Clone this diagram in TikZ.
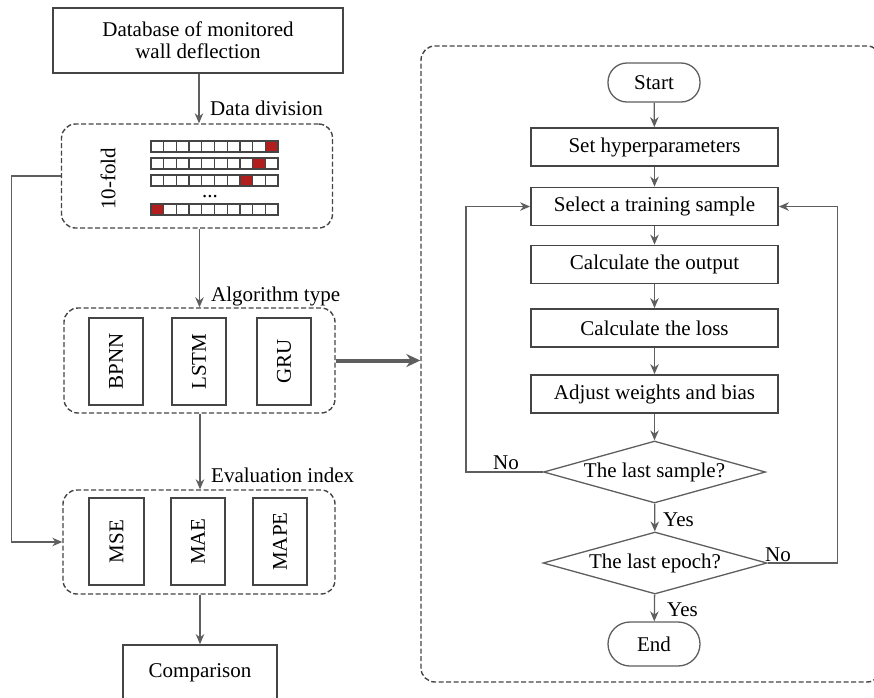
\documentclass[tikz,border=0pt]{standalone}
\usepackage{fontspec}
\setmainfont{Liberation Serif}
\usetikzlibrary{shapes.geometric,arrows.meta}

\definecolor{boxc}{HTML}{454545}
\definecolor{linec}{HTML}{5E5E5E}
\definecolor{cellred}{HTML}{B21E1E}

\tikzset{
  txt/.style={font=\fontsize{21}{24}\selectfont, text=black},
  solidbox/.style={txt, draw=boxc, line width=1.8pt, inner sep=0pt},
  groupbox/.style={draw=boxc, line width=1.4pt, dash pattern=on 5pt off 2.5pt,
                   rounded corners=14pt, inner sep=0pt},
  vbox/.style={solidbox, minimum width=54pt, minimum height=87pt},
  flowbox/.style={solidbox, minimum width=247pt, minimum height=38pt},
  terminal/.style={txt, draw=linec, line width=1.3pt, rounded corners=19pt,
                   minimum width=92pt, inner sep=0pt},
  decision/.style={txt, diamond, aspect=3.58, draw=linec, line width=1.3pt,
                   inner sep=0pt, minimum width=222pt, minimum height=62pt},
  conn/.style={draw=linec, line width=1.3pt,
               -{Stealth[length=10pt,width=8.5pt]}},
  thickconn/.style={draw=linec, line width=4pt,
                    -{Stealth[length=14pt,width=13pt]}},
  label/.style={txt, anchor=west, inner sep=0pt},
  cell/.style={draw=boxc, line width=1.3pt},
}

\begin{document}
\begin{tikzpicture}[x=1pt,y=-1pt]
\useasboundingbox (0,0) rectangle (874,697);
\clip (0,0) rectangle (874,697);

% ---------- left column ----------
\node[solidbox, minimum width=290pt, minimum height=65pt, align=center]
  (db) at (198,40.5) {Database of monitored\\[-2pt]wall deflection};

\node[groupbox, minimum width=271pt, minimum height=104pt] (fold) at (197,176) {};
\node[txt, rotate=90] (foldlabel) at (108,179) {10-fold};

% cross-validation folds: ten cells per row, one held-out cell in red
\foreach \row/\ytop/\red in {1/141/10, 2/158/9, 3/175/8, 4/204/1} {
  \foreach \c in {1,...,10} {
    \pgfmathsetmacro{\xl}{151+(\c-1)*12.7}
    \ifnum\c=\red
      \filldraw[cell, fill=cellred] (\xl,\ytop) rectangle ++(12.7,11);
    \else
      \draw[cell, fill=white] (\xl,\ytop) rectangle ++(12.7,11);
    \fi
  }
}
\node[txt, anchor=base, inner sep=0pt] (folddots) at (210,197) {...};

\node[groupbox, minimum width=271pt, minimum height=105pt] (alg) at (199.5,360.5) {};
\node[vbox] (bpnn) at (116,361.5) {\rotatebox{90}{BPNN}};
\node[vbox] (lstm) at (199,361.5) {\rotatebox{90}{LSTM}};
\node[vbox] (gru)  at (284,361.5) {\rotatebox{90}{GRU}};

\node[groupbox, minimum width=272pt, minimum height=104pt] (eval) at (199,542) {};
\node[vbox, minimum width=55pt] (mse)  at (116.5,541.5) {\rotatebox{90}{MSE}};
\node[vbox] (mae)  at (198,541.5) {\rotatebox{90}{MAE}};
\node[vbox] (mape) at (280,541.5) {\rotatebox{90}{MAPE}};

\node[solidbox, minimum width=154pt, minimum height=56pt] (cmp) at (200,673) {Comparison};

\node[label] (lbldiv)  at (210,108) {Data division};
\node[label] (lblalg)  at (211,296) {Algorithm type};
\node[label] (lbleval) at (211,475) {Evaluation index};

\draw[conn] (db.south -| 199,0) -- (fold.north -| 199,0);
\draw[conn] (fold.south -| 199.5,0) -- (alg.north -| 199.5,0);
\draw[conn] (alg.south -| 200,0) -- (eval.north -| 200,0);
\draw[conn] (eval.south -| 200,0) -- (cmp.north -| 200,0);
\draw[conn] (fold.west) -- ++(-49.5,0) |- (eval.west);

% ---------- training loop ----------
\node[groupbox, minimum width=460pt, minimum height=636pt] (train) at (651,364) {};

\node[terminal, minimum height=39pt] (start) at (654,82.5) {Start};
\node[flowbox] (hyp)  at (654.5,147)   {Set hyperparameters};
\node[flowbox] (sel)  at (654.5,206.5) {Select a training sample};
\node[flowbox] (out)  at (654.5,264.5) {Calculate the output};
\node[flowbox] (loss) at (654.5,328)   {Calculate the loss};
\node[flowbox] (adj)  at (654.5,394)   {Adjust weights and bias};
\node[decision] (d1) at (654.5,472) {The last sample?};
\node[decision, minimum width=224pt] (d2) at (655,563) {The last epoch?};
\node[terminal, minimum height=44pt, rounded corners=22pt] (end) at (654,644) {End};

\draw[conn] (start) -- (hyp);
\draw[conn] (hyp) -- (sel);
\draw[conn] (sel) -- (out);
\draw[conn] (out) -- (loss);
\draw[conn] (loss) -- (adj);
\draw[conn] (adj) -- (d1);
\draw[conn] (d1) -- (d2);
\draw[conn] (d2) -- (end);
\draw[conn] (d1.west) -- ++(-77,0) |- (sel.west);
\draw[conn] (d2.east) -- ++(70,0) |- (sel.east);

\node[label] (no1)  at (493,463) {No};
\node[label] (no2)  at (765,555) {No};
\node[label] (yes1) at (663,520) {Yes};
\node[label] (yes2) at (667,610) {Yes};

\draw[thickconn] (alg.east) -- (alg.east -| train.west);
\end{tikzpicture}
\end{document}
